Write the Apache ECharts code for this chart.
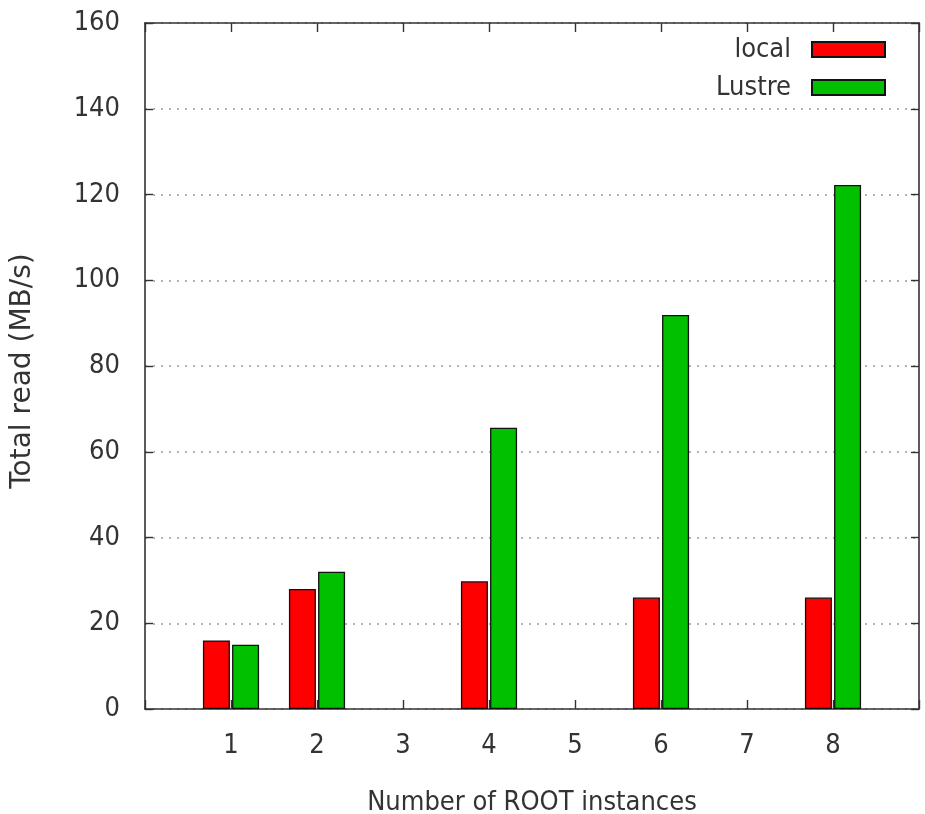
<!DOCTYPE html>
<html><head><meta charset="utf-8">
<script src="https://cdn.jsdelivr.net/npm/echarts@6/dist/echarts.min.js"></script>
<style>html,body{margin:0;padding:0;background:#fff}#c{width:925px;height:814px}</style>
</head><body><div id="c"></div>
<script>
const instances = [1, 2, 4, 6, 8];
const localRead = [16, 28, 29.8, 26, 26];
const lustreRead = [15, 32, 65.6, 91.9, 122.2];
const xTickLabels = ['1','2','3','4','5','6','7','8'];

const COND = "'DejaVu Sans Condensed','DejaVu Sans',sans-serif";
const WIDE = "'DejaVu Sans',sans-serif";
const chart = echarts.init(document.getElementById('c'));
const axisLine = {show:true, onZero:false, lineStyle:{color:'#333', width:1.6}};
const tick = len => ({show:true, inside:true, length:len, lineStyle:{color:'#333', width:1.4}});
chart.setOption({
  animation:false,
  grid:{left:145, right:6, top:23, bottom:105, outerBoundsMode:'none', containLabel:false},
  legend:{
    orient:'vertical', right:34, top:31, align:'right', icon:'rect',
    itemWidth:73, itemHeight:15, itemGap:11,
    textStyle:{fontFamily:COND, fontSize:27, color:'#333', padding:[0,16,0,0]},
    data:['local','Lustre']
  },
  xAxis:[{
    type:'value', min:0, max:9, interval:1, position:'bottom',
    axisLine:axisLine, axisTick:tick(9),
    axisLabel:{fontFamily:COND, fontSize:27, color:'#333', margin:23,
      formatter:v => (v>=1 && v<=8) ? xTickLabels[v-1] : ''},
    splitLine:{show:false},
    name:'Number of ROOT instances', nameLocation:'middle', nameGap:80,
    nameTextStyle:{fontFamily:COND, fontSize:27, color:'#333'}
  },{
    type:'value', min:0, max:9, interval:1, position:'top',
    axisLine:axisLine, axisTick:tick(9),
    axisLabel:{show:false}, splitLine:{show:false}
  }],
  yAxis:[{
    type:'value', min:0, max:160, interval:20, position:'left',
    axisLine:axisLine, axisTick:tick(8),
    axisLabel:{fontFamily:COND, fontSize:27, color:'#333', margin:25},
    splitLine:{show:true, lineStyle:{type:[2,6], color:'#999', width:1.5}},
    name:'Total read (MB/s)', nameLocation:'middle', nameGap:108, nameRotate:90,
    nameTextStyle:{fontFamily:WIDE, fontSize:28, color:'#333', padding:[0,10,0,0]}
  },{
    type:'value', min:0, max:160, interval:20, position:'right',
    axisLine:axisLine, axisTick:tick(8),
    axisLabel:{show:false}, splitLine:{show:false}
  }],
  series:[{
    name:'local', type:'bar', barWidth:27, barGap:'8%',
    itemStyle:{color:'#ff0000', borderColor:'#111', borderWidth:1.3},
    data: instances.map((x,i)=>[x, localRead[i]])
  },{
    name:'Lustre', type:'bar', barWidth:27, barGap:'8%',
    itemStyle:{color:'#00c000', borderColor:'#111', borderWidth:1.3},
    data: instances.map((x,i)=>[x, lustreRead[i]])
  }]
});
</script></body></html>
